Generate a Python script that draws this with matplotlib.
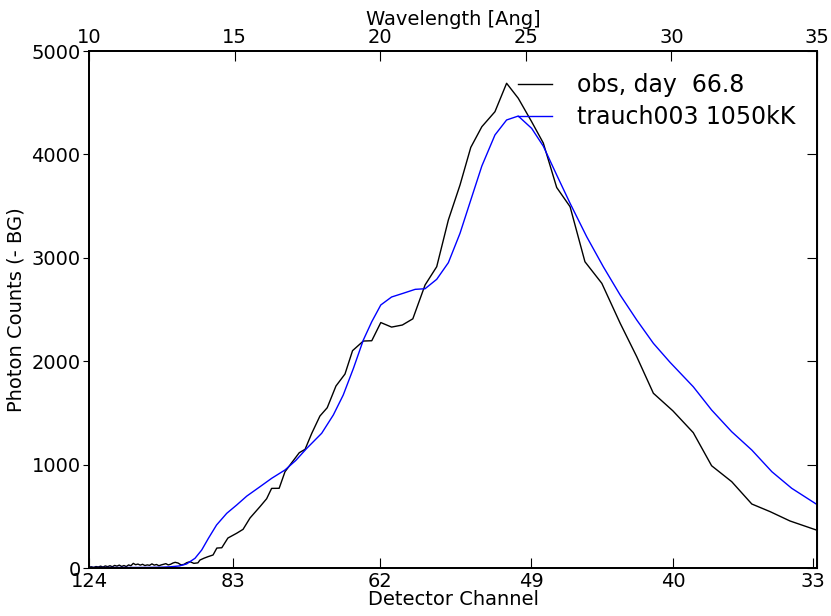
import numpy as np
import matplotlib
matplotlib.use('Agg')
import matplotlib.pyplot as plt

# observed spectrum, wavelength [Ang] vs counts
obs_wave = [10.00, 10.08, 10.16, 10.24, 10.32, 10.40, 10.48, 10.56, 10.64, 10.72,
            10.80, 10.88, 10.96, 11.04, 11.12, 11.20, 11.28, 11.36, 11.44, 11.52,
            11.60, 11.68, 11.76, 11.84, 11.92, 12.00, 12.08, 12.16, 12.24, 12.32,
            12.40, 12.48, 12.56, 12.64, 12.72, 12.80, 12.88, 12.96, 13.06, 13.16,
            13.26, 13.36, 13.47, 13.60, 13.74, 13.81, 13.95, 14.09, 14.26, 14.39,
            14.56, 14.77, 15.07, 15.29, 15.53, 15.87, 16.10, 16.27, 16.53, 16.73,
            16.96, 17.22, 17.42, 17.65, 17.93, 18.18, 18.48, 18.79, 19.05, 19.42,
            19.71, 20.02, 20.39, 20.76, 21.12, 21.54, 21.94, 22.34, 22.74, 23.11,
            23.49, 23.94, 24.34, 24.74, 25.20, 25.60, 26.06, 26.52, 27.03, 27.61,
            28.24, 28.81, 29.38, 30.05, 30.75, 31.38, 32.07, 32.76, 33.39, 34.07,
            34.97, 35.00]
obs_counts = [8, 12, 6, 14, 10, 18, 9, 20, 13, 22,
              12, 25, 18, 28, 15, 24, 14, 30, 22, 45,
              32, 38, 28, 36, 24, 30, 26, 40, 28, 34,
              22, 30, 36, 42, 30, 36, 48, 55, 48, 30,
              35, 52, 61, 45, 50, 77, 95, 110, 126, 193,
              196, 290, 336, 374, 484, 593, 670, 770, 771, 931,
              1018, 1115, 1148, 1303, 1470, 1550, 1760, 1876, 2102, 2195,
              2198, 2374, 2330, 2350, 2410, 2737, 2914, 3366, 3704, 4068,
              4268, 4413, 4688, 4543, 4316, 4110, 3680, 3494, 2962, 2753,
              2367, 2043, 1690, 1520, 1309, 989, 835, 619, 545, 455,
              368, 365]

# model spectrum
mod_wave = [10.0, 11.0, 12.0, 12.5, 12.8, 13.1, 13.35, 13.64, 13.87, 14.10,
            14.38, 14.73, 15.07, 15.42, 15.87, 16.27, 16.73, 17.10, 17.48, 17.99,
            18.39, 18.73, 19.08, 19.42, 19.71, 20.02, 20.39, 20.79, 21.20, 21.54,
            21.94, 22.34, 22.74, 23.11, 23.49, 23.94, 24.34, 24.74, 25.20, 25.60,
            26.06, 26.52, 27.09, 27.66, 28.24, 28.81, 29.38, 29.95, 30.75, 31.38,
            32.07, 32.76, 33.45, 34.13, 34.97, 35.0]
mod_counts = [5, 5, 6, 8, 12, 20, 39, 94, 174, 287,
              416, 529, 609, 696, 786, 867, 948, 1040, 1158, 1303,
              1480, 1673, 1931, 2205, 2382, 2544, 2621, 2657, 2695, 2701,
              2792, 2953, 3237, 3559, 3888, 4188, 4333, 4371, 4252, 4080,
              3801, 3527, 3204, 2914, 2640, 2398, 2173, 1990, 1753, 1528,
              1318, 1141, 931, 771, 619, 615]

wave_ticks = [10, 15, 20, 25, 30, 35]
chan_ticks = [10.0, 14.93, 19.99, 25.18, 30.05, 34.86]
chan_labels = ['124', '83', '62', '49', '40', '33']

fs = 14
fig = plt.figure(figsize=(8.31, 6.16), dpi=100)
ax = fig.add_axes([0.1071, 0.0779, 0.8761, 0.8393])

ax.plot(obs_wave, obs_counts, color='k', lw=1.0, label='obs, day  66.8')
ax.plot(mod_wave, mod_counts, color='b', lw=1.0, label='trauch003 1050kK')

ax.set_xlim(10, 35)
ax.set_ylim(0, 5000)
ax.set_yticks([0, 1000, 2000, 3000, 4000, 5000])
ax.set_xticks(chan_ticks)
ax.set_xticklabels(chan_labels)
ax.tick_params(axis='x', direction='in', length=7, labelsize=fs, top=False, pad=3)
ax.tick_params(axis='y', direction='out', length=4, labelsize=fs, right=False, pad=2)
ax.set_xlabel('Detector Channel', fontsize=fs, labelpad=-1)
ax.set_ylabel('Photon Counts (- BG)', fontsize=fs, labelpad=4)

ax2 = ax.twiny()
ax2.set_xlim(10, 35)
ax2.set_xticks(wave_ticks)
ax2.tick_params(axis='x', direction='in', length=7, labelsize=fs, pad=3)
ax2.set_xlabel('Wavelength [Ang]', fontsize=fs, labelpad=2)

ay = ax.secondary_yaxis('right')
ay.set_yticks([0, 1000, 2000, 3000, 4000, 5000])
ay.tick_params(direction='in', length=7, labelright=False)

for a in (ax, ax2):
    for s in a.spines.values():
        s.set_linewidth(1.3)

ax.legend(loc='upper right', frameon=False, fontsize=17, handlelength=1.45,
          handletextpad=1.05, labelspacing=0.32, borderpad=0, borderaxespad=0,
          bbox_to_anchor=(0.970, 0.957))

plt.savefig('out.png', dpi=100)
